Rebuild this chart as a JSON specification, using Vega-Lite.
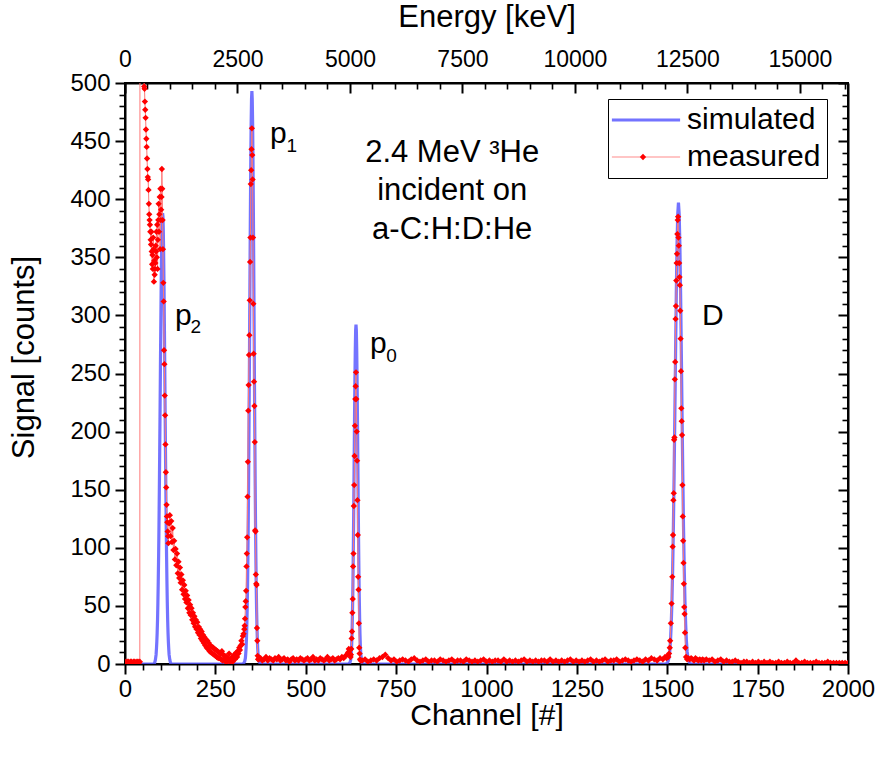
{
  "$schema": "https://vega.github.io/schema/vega-lite/v6.json",
  "width": 723,
  "height": 581,
  "autosize": {"type": "none"},
  "padding": {"left": 125, "top": 83, "right": 30, "bottom": 93},
  "background": "white",
  "datasets": {
    "sim": [
      {"ch": 0, "v": 0}, {"ch": 79, "v": 0}, {"ch": 82, "v": 1}, {"ch": 84, "v": 3.5}, {"ch": 86, "v": 8}, {"ch": 87, "v": 13}, {"ch": 88, "v": 19}, {"ch": 89, "v": 27}, {"ch": 90, "v": 38}, {"ch": 91, "v": 53}, {"ch": 92, "v": 71}, {"ch": 93, "v": 93}, {"ch": 94, "v": 119}, {"ch": 95, "v": 150}, {"ch": 96, "v": 183}, {"ch": 97, "v": 218}, {"ch": 98, "v": 255}, {"ch": 99, "v": 290}, {"ch": 100, "v": 323}, {"ch": 101, "v": 350}, {"ch": 102, "v": 372}, {"ch": 103, "v": 385}, {"ch": 104, "v": 388}, {"ch": 105, "v": 385}, {"ch": 106, "v": 372}, {"ch": 107, "v": 350}, {"ch": 108, "v": 323}, {"ch": 109, "v": 290}, {"ch": 110, "v": 255}, {"ch": 111, "v": 218}, {"ch": 112, "v": 183}, {"ch": 113, "v": 150}, {"ch": 114, "v": 119}, {"ch": 115, "v": 93}, {"ch": 116, "v": 71}, {"ch": 117, "v": 53}, {"ch": 118, "v": 38}, {"ch": 119, "v": 27}, {"ch": 120, "v": 19}, {"ch": 121, "v": 13}, {"ch": 122, "v": 8}, {"ch": 124, "v": 3.5}, {"ch": 126, "v": 1}, {"ch": 129, "v": 0},
      {"ch": 326, "v": 0}, {"ch": 329, "v": 1}, {"ch": 331, "v": 2}, {"ch": 333, "v": 5}, {"ch": 334, "v": 9}, {"ch": 335, "v": 14}, {"ch": 336, "v": 22}, {"ch": 337, "v": 33}, {"ch": 338, "v": 47}, {"ch": 339, "v": 67}, {"ch": 340, "v": 92}, {"ch": 341, "v": 123}, {"ch": 342, "v": 160}, {"ch": 343, "v": 203}, {"ch": 344, "v": 249}, {"ch": 345, "v": 299}, {"ch": 346, "v": 349}, {"ch": 347, "v": 395}, {"ch": 348, "v": 435}, {"ch": 349, "v": 466}, {"ch": 350, "v": 486}, {"ch": 351, "v": 493}, {"ch": 352, "v": 486}, {"ch": 353, "v": 466}, {"ch": 354, "v": 435}, {"ch": 355, "v": 395}, {"ch": 356, "v": 349}, {"ch": 357, "v": 299}, {"ch": 358, "v": 249}, {"ch": 359, "v": 203}, {"ch": 360, "v": 160}, {"ch": 361, "v": 123}, {"ch": 362, "v": 92}, {"ch": 363, "v": 67}, {"ch": 364, "v": 47}, {"ch": 365, "v": 33}, {"ch": 366, "v": 22}, {"ch": 367, "v": 14}, {"ch": 368, "v": 9}, {"ch": 369, "v": 5}, {"ch": 371, "v": 2}, {"ch": 373, "v": 1}, {"ch": 377, "v": 0},
      {"ch": 618, "v": 0}, {"ch": 622, "v": 1}, {"ch": 624, "v": 3}, {"ch": 625, "v": 6}, {"ch": 626, "v": 10}, {"ch": 627, "v": 16}, {"ch": 628, "v": 26}, {"ch": 629, "v": 40}, {"ch": 630, "v": 58}, {"ch": 631, "v": 81}, {"ch": 632, "v": 110}, {"ch": 633, "v": 143}, {"ch": 634, "v": 178}, {"ch": 635, "v": 213}, {"ch": 636, "v": 245}, {"ch": 637, "v": 270}, {"ch": 638, "v": 287}, {"ch": 639, "v": 292}, {"ch": 640, "v": 287}, {"ch": 641, "v": 270}, {"ch": 642, "v": 245}, {"ch": 643, "v": 213}, {"ch": 644, "v": 178}, {"ch": 645, "v": 143}, {"ch": 646, "v": 110}, {"ch": 647, "v": 81}, {"ch": 648, "v": 58}, {"ch": 649, "v": 40}, {"ch": 650, "v": 26}, {"ch": 651, "v": 16}, {"ch": 652, "v": 10}, {"ch": 653, "v": 6}, {"ch": 654, "v": 3}, {"ch": 656, "v": 1}, {"ch": 660, "v": 0},
      {"ch": 1497, "v": 0}, {"ch": 1501, "v": 1.5}, {"ch": 1503, "v": 3}, {"ch": 1505, "v": 6}, {"ch": 1507, "v": 11}, {"ch": 1509, "v": 20}, {"ch": 1511, "v": 34}, {"ch": 1513, "v": 54}, {"ch": 1515, "v": 82}, {"ch": 1517, "v": 118}, {"ch": 1519, "v": 163}, {"ch": 1521, "v": 214}, {"ch": 1523, "v": 267}, {"ch": 1525, "v": 318}, {"ch": 1527, "v": 360}, {"ch": 1529, "v": 387}, {"ch": 1531, "v": 397}, {"ch": 1533, "v": 387}, {"ch": 1535, "v": 360}, {"ch": 1537, "v": 318}, {"ch": 1539, "v": 267}, {"ch": 1541, "v": 214}, {"ch": 1543, "v": 163}, {"ch": 1545, "v": 118}, {"ch": 1547, "v": 82}, {"ch": 1549, "v": 54}, {"ch": 1551, "v": 34}, {"ch": 1553, "v": 20}, {"ch": 1555, "v": 11}, {"ch": 1557, "v": 6}, {"ch": 1559, "v": 3}, {"ch": 1561, "v": 1.5}, {"ch": 1565, "v": 0}, {"ch": 2000, "v": 0}
    ],
    "meas": [
      {"ch": 0, "v": 2}, {"ch": 3, "v": 1}, {"ch": 6, "v": 2}, {"ch": 9, "v": 2}, {"ch": 12, "v": 1}, {"ch": 15, "v": 2}, {"ch": 18, "v": 2}, {"ch": 21, "v": 1}, {"ch": 24, "v": 2}, {"ch": 27, "v": 2}, {"ch": 30, "v": 1}, {"ch": 33, "v": 2}, {"ch": 36, "v": 2}, {"ch": 39, "v": 1}, {"ch": 41, "v": 2}, {"ch": 42, "v": 1500},
      {"ch": 53, "v": 497}, {"ch": 54, "v": 495}, {"ch": 55, "v": 484}, {"ch": 56, "v": 477}, {"ch": 57, "v": 470}, {"ch": 58, "v": 460}, {"ch": 59, "v": 452}, {"ch": 60, "v": 445}, {"ch": 61, "v": 435}, {"ch": 62, "v": 426}, {"ch": 63, "v": 419}, {"ch": 64, "v": 417}, {"ch": 65, "v": 408}, {"ch": 66, "v": 396}, {"ch": 67, "v": 387}, {"ch": 68, "v": 382}, {"ch": 69, "v": 378}, {"ch": 70, "v": 372}, {"ch": 71, "v": 365}, {"ch": 72, "v": 361}, {"ch": 73, "v": 372}, {"ch": 74, "v": 355}, {"ch": 75, "v": 344}, {"ch": 76, "v": 352}, {"ch": 77, "v": 340}, {"ch": 78, "v": 367}, {"ch": 79, "v": 357}, {"ch": 80, "v": 329}, {"ch": 81, "v": 347}, {"ch": 82, "v": 335}, {"ch": 83, "v": 340}, {"ch": 84, "v": 345}, {"ch": 85, "v": 360}, {"ch": 86, "v": 355}, {"ch": 87, "v": 372}, {"ch": 88, "v": 350}, {"ch": 89, "v": 378}, {"ch": 90, "v": 340}, {"ch": 91, "v": 365}, {"ch": 92, "v": 382}, {"ch": 93, "v": 396}, {"ch": 94, "v": 372}, {"ch": 95, "v": 387}, {"ch": 96, "v": 402}, {"ch": 97, "v": 357}, {"ch": 98, "v": 409}, {"ch": 99, "v": 382}, {"ch": 100, "v": 391}, {"ch": 101, "v": 402}, {"ch": 102, "v": 426}, {"ch": 103, "v": 409}, {"ch": 104, "v": 382}, {"ch": 105, "v": 357}, {"ch": 106, "v": 328}, {"ch": 107, "v": 312}, {"ch": 108, "v": 270}, {"ch": 109, "v": 258}, {"ch": 110, "v": 231}, {"ch": 111, "v": 214}, {"ch": 112, "v": 189}, {"ch": 113, "v": 165}, {"ch": 114, "v": 152}, {"ch": 115, "v": 137}, {"ch": 116, "v": 127}, {"ch": 117, "v": 122}, {"ch": 118, "v": 114}, {"ch": 119, "v": 110},
      {"ch": 120, "v": 104}, {"ch": 122, "v": 121}, {"ch": 124, "v": 128}, {"ch": 126, "v": 110}, {"ch": 128, "v": 123}, {"ch": 130, "v": 105}, {"ch": 132, "v": 117}, {"ch": 134, "v": 98}, {"ch": 136, "v": 106}, {"ch": 138, "v": 90}, {"ch": 140, "v": 99}, {"ch": 142, "v": 85}, {"ch": 144, "v": 95}, {"ch": 146, "v": 78}, {"ch": 148, "v": 88}, {"ch": 150, "v": 74}, {"ch": 152, "v": 83}, {"ch": 154, "v": 70}, {"ch": 156, "v": 77}, {"ch": 158, "v": 64}, {"ch": 160, "v": 72}, {"ch": 162, "v": 60}, {"ch": 164, "v": 68}, {"ch": 166, "v": 56}, {"ch": 168, "v": 63}, {"ch": 170, "v": 53}, {"ch": 172, "v": 59}, {"ch": 174, "v": 48}, {"ch": 176, "v": 55}, {"ch": 178, "v": 44}, {"ch": 180, "v": 51}, {"ch": 182, "v": 42}, {"ch": 184, "v": 48}, {"ch": 186, "v": 38}, {"ch": 188, "v": 44}, {"ch": 190, "v": 35}, {"ch": 192, "v": 41}, {"ch": 194, "v": 32}, {"ch": 196, "v": 38}, {"ch": 198, "v": 30}, {"ch": 200, "v": 36}, {"ch": 202, "v": 27}, {"ch": 204, "v": 32}, {"ch": 206, "v": 25}, {"ch": 208, "v": 30}, {"ch": 210, "v": 22}, {"ch": 212, "v": 28}, {"ch": 214, "v": 20}, {"ch": 216, "v": 25}, {"ch": 218, "v": 18}, {"ch": 220, "v": 23}, {"ch": 222, "v": 16}, {"ch": 224, "v": 21}, {"ch": 226, "v": 14}, {"ch": 228, "v": 20}, {"ch": 230, "v": 13}, {"ch": 232, "v": 18}, {"ch": 234, "v": 11}, {"ch": 236, "v": 16}, {"ch": 238, "v": 10}, {"ch": 240, "v": 15}, {"ch": 242, "v": 9}, {"ch": 244, "v": 14}, {"ch": 246, "v": 8}, {"ch": 248, "v": 13}, {"ch": 250, "v": 7}, {"ch": 252, "v": 12}, {"ch": 254, "v": 6}, {"ch": 256, "v": 11}, {"ch": 258, "v": 5}, {"ch": 260, "v": 10}, {"ch": 262, "v": 5}, {"ch": 264, "v": 9}, {"ch": 266, "v": 4}, {"ch": 268, "v": 11}, {"ch": 270, "v": 3}, {"ch": 272, "v": 8}, {"ch": 274, "v": 4}, {"ch": 276, "v": 7}, {"ch": 278, "v": 2}, {"ch": 280, "v": 6}, {"ch": 282, "v": 2}, {"ch": 284, "v": 5}, {"ch": 286, "v": 3}, {"ch": 288, "v": 9}, {"ch": 290, "v": 2}, {"ch": 292, "v": 4}, {"ch": 294, "v": 3}, {"ch": 296, "v": 6}, {"ch": 298, "v": 2}, {"ch": 300, "v": 5}, {"ch": 302, "v": 8}, {"ch": 304, "v": 4}, {"ch": 306, "v": 7}, {"ch": 308, "v": 10}, {"ch": 310, "v": 6}, {"ch": 312, "v": 11}, {"ch": 314, "v": 9}, {"ch": 316, "v": 14}, {"ch": 318, "v": 12}, {"ch": 320, "v": 16}, {"ch": 322, "v": 20}, {"ch": 324, "v": 17}, {"ch": 326, "v": 24}, {"ch": 328, "v": 26},
      {"ch": 330, "v": 30}, {"ch": 331, "v": 33}, {"ch": 332, "v": 39}, {"ch": 333, "v": 49}, {"ch": 334, "v": 54}, {"ch": 335, "v": 63}, {"ch": 336, "v": 84}, {"ch": 337, "v": 95}, {"ch": 338, "v": 109}, {"ch": 339, "v": 144}, {"ch": 340, "v": 174}, {"ch": 341, "v": 218}, {"ch": 342, "v": 240}, {"ch": 343, "v": 266}, {"ch": 344, "v": 283}, {"ch": 345, "v": 313}, {"ch": 346, "v": 346}, {"ch": 347, "v": 367}, {"ch": 348, "v": 413}, {"ch": 349, "v": 425}, {"ch": 350, "v": 443}, {"ch": 351, "v": 461}, {"ch": 352, "v": 438}, {"ch": 353, "v": 417}, {"ch": 354, "v": 367}, {"ch": 355, "v": 310}, {"ch": 356, "v": 267}, {"ch": 357, "v": 243}, {"ch": 358, "v": 222}, {"ch": 359, "v": 191}, {"ch": 360, "v": 115}, {"ch": 361, "v": 114}, {"ch": 362, "v": 77}, {"ch": 363, "v": 69}, {"ch": 364, "v": 68}, {"ch": 365, "v": 31}, {"ch": 366, "v": 20}, {"ch": 367, "v": 7}, {"ch": 368, "v": 4},
      {"ch": 370, "v": 4}, {"ch": 375, "v": 5}, {"ch": 380, "v": 3}, {"ch": 385, "v": 4}, {"ch": 390, "v": 6}, {"ch": 395, "v": 3}, {"ch": 400, "v": 5}, {"ch": 405, "v": 4}, {"ch": 410, "v": 3}, {"ch": 415, "v": 5}, {"ch": 420, "v": 4}, {"ch": 425, "v": 6}, {"ch": 430, "v": 3}, {"ch": 435, "v": 4}, {"ch": 440, "v": 5}, {"ch": 445, "v": 3}, {"ch": 450, "v": 4}, {"ch": 455, "v": 2}, {"ch": 460, "v": 4}, {"ch": 465, "v": 5}, {"ch": 470, "v": 3}, {"ch": 475, "v": 4}, {"ch": 480, "v": 3}, {"ch": 485, "v": 5}, {"ch": 490, "v": 4}, {"ch": 495, "v": 3}, {"ch": 500, "v": 4}, {"ch": 505, "v": 5}, {"ch": 510, "v": 3}, {"ch": 515, "v": 4}, {"ch": 520, "v": 6}, {"ch": 525, "v": 3}, {"ch": 530, "v": 4}, {"ch": 535, "v": 3}, {"ch": 540, "v": 5}, {"ch": 545, "v": 4}, {"ch": 550, "v": 3}, {"ch": 555, "v": 4}, {"ch": 560, "v": 6}, {"ch": 565, "v": 3}, {"ch": 570, "v": 4}, {"ch": 575, "v": 5}, {"ch": 580, "v": 3}, {"ch": 585, "v": 4}, {"ch": 590, "v": 5}, {"ch": 595, "v": 4}, {"ch": 600, "v": 6}, {"ch": 605, "v": 5}, {"ch": 610, "v": 7}, {"ch": 614, "v": 8}, {"ch": 617, "v": 10}, {"ch": 619, "v": 13}, {"ch": 621, "v": 9}, {"ch": 622, "v": 12}, {"ch": 624, "v": 6},
      {"ch": 625, "v": 8}, {"ch": 626, "v": 13}, {"ch": 627, "v": 22}, {"ch": 628, "v": 28}, {"ch": 629, "v": 44}, {"ch": 630, "v": 56}, {"ch": 631, "v": 84}, {"ch": 632, "v": 95}, {"ch": 633, "v": 136}, {"ch": 634, "v": 154}, {"ch": 635, "v": 179}, {"ch": 636, "v": 205}, {"ch": 637, "v": 228}, {"ch": 638, "v": 239}, {"ch": 639, "v": 251}, {"ch": 640, "v": 228}, {"ch": 641, "v": 200}, {"ch": 642, "v": 175}, {"ch": 643, "v": 141}, {"ch": 644, "v": 111}, {"ch": 645, "v": 75}, {"ch": 646, "v": 64}, {"ch": 647, "v": 35}, {"ch": 648, "v": 14}, {"ch": 649, "v": 9}, {"ch": 650, "v": 4}, {"ch": 652, "v": 3},
      {"ch": 656, "v": 3}, {"ch": 664, "v": 4}, {"ch": 672, "v": 2}, {"ch": 680, "v": 3}, {"ch": 688, "v": 4}, {"ch": 696, "v": 3}, {"ch": 704, "v": 5}, {"ch": 712, "v": 6}, {"ch": 720, "v": 8}, {"ch": 728, "v": 5}, {"ch": 736, "v": 3}, {"ch": 744, "v": 4}, {"ch": 752, "v": 2}, {"ch": 760, "v": 3}, {"ch": 768, "v": 4}, {"ch": 776, "v": 3}, {"ch": 784, "v": 2}, {"ch": 792, "v": 4}, {"ch": 800, "v": 5}, {"ch": 808, "v": 3}, {"ch": 816, "v": 2}, {"ch": 824, "v": 3}, {"ch": 832, "v": 4}, {"ch": 840, "v": 2}, {"ch": 848, "v": 3}, {"ch": 856, "v": 3}, {"ch": 864, "v": 2}, {"ch": 872, "v": 4}, {"ch": 880, "v": 3}, {"ch": 888, "v": 2}, {"ch": 896, "v": 3}, {"ch": 904, "v": 4}, {"ch": 912, "v": 2}, {"ch": 920, "v": 3}, {"ch": 928, "v": 3}, {"ch": 936, "v": 2}, {"ch": 944, "v": 4}, {"ch": 952, "v": 3}, {"ch": 960, "v": 2}, {"ch": 968, "v": 3}, {"ch": 976, "v": 2}, {"ch": 984, "v": 3}, {"ch": 992, "v": 4}, {"ch": 1000, "v": 2}, {"ch": 1008, "v": 3}, {"ch": 1016, "v": 2}, {"ch": 1024, "v": 3}, {"ch": 1032, "v": 3}, {"ch": 1040, "v": 2}, {"ch": 1048, "v": 4}, {"ch": 1056, "v": 2}, {"ch": 1064, "v": 3}, {"ch": 1072, "v": 2}, {"ch": 1080, "v": 3}, {"ch": 1088, "v": 2}, {"ch": 1096, "v": 3}, {"ch": 1104, "v": 4}, {"ch": 1112, "v": 2}, {"ch": 1120, "v": 3}, {"ch": 1128, "v": 2}, {"ch": 1136, "v": 3}, {"ch": 1144, "v": 2}, {"ch": 1152, "v": 3}, {"ch": 1160, "v": 3}, {"ch": 1168, "v": 2}, {"ch": 1176, "v": 4}, {"ch": 1184, "v": 2}, {"ch": 1192, "v": 3}, {"ch": 1200, "v": 2}, {"ch": 1208, "v": 3}, {"ch": 1216, "v": 2}, {"ch": 1224, "v": 3}, {"ch": 1232, "v": 4}, {"ch": 1240, "v": 2}, {"ch": 1248, "v": 3}, {"ch": 1256, "v": 2}, {"ch": 1264, "v": 3}, {"ch": 1272, "v": 2}, {"ch": 1280, "v": 3}, {"ch": 1288, "v": 4}, {"ch": 1296, "v": 2}, {"ch": 1304, "v": 3}, {"ch": 1312, "v": 2}, {"ch": 1320, "v": 3}, {"ch": 1328, "v": 4}, {"ch": 1336, "v": 2}, {"ch": 1344, "v": 3}, {"ch": 1352, "v": 3}, {"ch": 1360, "v": 4}, {"ch": 1368, "v": 2}, {"ch": 1376, "v": 3}, {"ch": 1384, "v": 4}, {"ch": 1392, "v": 3}, {"ch": 1400, "v": 2}, {"ch": 1408, "v": 3}, {"ch": 1416, "v": 4}, {"ch": 1424, "v": 3}, {"ch": 1432, "v": 2}, {"ch": 1440, "v": 4}, {"ch": 1448, "v": 3}, {"ch": 1456, "v": 5}, {"ch": 1464, "v": 4}, {"ch": 1472, "v": 3}, {"ch": 1480, "v": 5}, {"ch": 1488, "v": 4}, {"ch": 1494, "v": 6}, {"ch": 1498, "v": 5}, {"ch": 1501, "v": 7},
      {"ch": 1503, "v": 6}, {"ch": 1505, "v": 9}, {"ch": 1507, "v": 14}, {"ch": 1508, "v": 20}, {"ch": 1510, "v": 35}, {"ch": 1512, "v": 52}, {"ch": 1514, "v": 75}, {"ch": 1515, "v": 101}, {"ch": 1516, "v": 111}, {"ch": 1517, "v": 141}, {"ch": 1518, "v": 147}, {"ch": 1519, "v": 193}, {"ch": 1520, "v": 195}, {"ch": 1521, "v": 245}, {"ch": 1522, "v": 260}, {"ch": 1523, "v": 297}, {"ch": 1524, "v": 308}, {"ch": 1525, "v": 330}, {"ch": 1526, "v": 345}, {"ch": 1527, "v": 353}, {"ch": 1528, "v": 370}, {"ch": 1529, "v": 382}, {"ch": 1530, "v": 385}, {"ch": 1531, "v": 367}, {"ch": 1532, "v": 360}, {"ch": 1533, "v": 345}, {"ch": 1534, "v": 333}, {"ch": 1535, "v": 326}, {"ch": 1536, "v": 304}, {"ch": 1537, "v": 280}, {"ch": 1538, "v": 252}, {"ch": 1539, "v": 220}, {"ch": 1540, "v": 209}, {"ch": 1541, "v": 197}, {"ch": 1542, "v": 154}, {"ch": 1543, "v": 127}, {"ch": 1544, "v": 106}, {"ch": 1545, "v": 87}, {"ch": 1546, "v": 69}, {"ch": 1547, "v": 49}, {"ch": 1548, "v": 43}, {"ch": 1549, "v": 27}, {"ch": 1550, "v": 14}, {"ch": 1552, "v": 6}, {"ch": 1555, "v": 4},
      {"ch": 1558, "v": 5}, {"ch": 1562, "v": 4}, {"ch": 1566, "v": 5}, {"ch": 1570, "v": 4}, {"ch": 1574, "v": 3}, {"ch": 1578, "v": 5}, {"ch": 1582, "v": 4}, {"ch": 1586, "v": 3}, {"ch": 1590, "v": 4}, {"ch": 1594, "v": 3}, {"ch": 1598, "v": 4}, {"ch": 1602, "v": 3}, {"ch": 1608, "v": 4}, {"ch": 1616, "v": 3}, {"ch": 1624, "v": 4}, {"ch": 1632, "v": 2}, {"ch": 1640, "v": 3}, {"ch": 1648, "v": 4}, {"ch": 1656, "v": 2}, {"ch": 1664, "v": 3}, {"ch": 1672, "v": 2}, {"ch": 1680, "v": 2}, {"ch": 1688, "v": 3}, {"ch": 1696, "v": 2}, {"ch": 1704, "v": 1}, {"ch": 1712, "v": 2}, {"ch": 1720, "v": 2}, {"ch": 1728, "v": 1}, {"ch": 1736, "v": 2}, {"ch": 1744, "v": 1}, {"ch": 1752, "v": 2}, {"ch": 1760, "v": 1}, {"ch": 1768, "v": 2}, {"ch": 1776, "v": 1}, {"ch": 1784, "v": 2}, {"ch": 1792, "v": 1}, {"ch": 1800, "v": 1}, {"ch": 1808, "v": 2}, {"ch": 1816, "v": 1}, {"ch": 1824, "v": 1}, {"ch": 1832, "v": 2}, {"ch": 1840, "v": 1}, {"ch": 1848, "v": 1}, {"ch": 1856, "v": 3}, {"ch": 1864, "v": 1}, {"ch": 1872, "v": 1}, {"ch": 1880, "v": 2}, {"ch": 1888, "v": 1}, {"ch": 1896, "v": 1}, {"ch": 1904, "v": 1}, {"ch": 1912, "v": 2}, {"ch": 1920, "v": 1}, {"ch": 1928, "v": 1}, {"ch": 1936, "v": 1}, {"ch": 1944, "v": 2}, {"ch": 1952, "v": 1}, {"ch": 1960, "v": 1}, {"ch": 1968, "v": 1}, {"ch": 1976, "v": 1}, {"ch": 1984, "v": 1}, {"ch": 1992, "v": 1}, {"ch": 2000, "v": 1}
    ],
    "ann": [
      {"t": "p", "ch": 401, "v": 448},
      {"t": "p", "ch": 138, "v": 292},
      {"t": "p", "ch": 678, "v": 268},
      {"t": "D", "ch": 1596, "v": 292}
    ],
    "sub": [
      {"t": "1", "ch": 447, "v": 441},
      {"t": "2", "ch": 181, "v": 285},
      {"t": "0", "ch": 723, "v": 260}
    ],
    "desc": [
      {"t": "2.4 MeV ³He", "ch": 905, "v": 432},
      {"t": "incident on", "ch": 905, "v": 399},
      {"t": "a-C:H:D:He", "ch": 905, "v": 366}
    ],
    "anchor": [{"a": 0, "b": 0}]
  },
  "layer": [
    {
      "encoding": {
        "x": {
          "field": "ch", "type": "quantitative",
          "scale": {"domain": [0, 2000], "nice": false, "zero": false},
          "axis": {
            "orient": "bottom",
            "title": "Channel [#]",
            "values": [0, 250, 500, 750, 1000, 1250, 1500, 1750, 2000],
            "format": "d",
            "labelOverlap": false,
            "labelFlush": false,
            "ticks": true,
            "tickSize": 10,
            "tickColor": "#000000",
            "tickWidth": 2,
            "tickOpacity": 1,
            "labelPadding": 3,
            "labelFontSize": 24,
            "titleFontSize": 30,
            "titleY": 60,
            "titleBaseline": "alphabetic"
          }
        },
        "y": {
          "field": "v", "type": "quantitative",
          "scale": {"domain": [0, 500], "nice": false, "zero": false},
          "axis": {
            "orient": "left",
            "title": "Signal [counts]",
            "values": [0, 50, 100, 150, 200, 250, 300, 350, 400, 450, 500],
            "format": "d",
            "labelOverlap": false,
            "labelFlush": false,
            "ticks": true,
            "tickSize": 10,
            "tickColor": "#000000",
            "tickWidth": 2,
            "tickOpacity": 1,
            "labelPadding": 5,
            "labelFontSize": 24,
            "titleFontSize": 31,
            "titleX": -92,
            "titleY": 274,
            "titleBaseline": "alphabetic"
          }
        }
      },
      "layer": [
        {
          "data": {"name": "sim"},
          "mark": {"type": "line", "opacity": 0.85, "clip": true},
          "encoding": {
            "color": {
              "datum": "simulated",
              "scale": {"domain": ["simulated", "measured"], "range": ["#5b5bff", "#ff7878"]},
              "legend": {
                "orient": "none",
                "legendX": 483,
                "legendY": 16,
                "title": null,
                "strokeColor": "black",
                "padding": 6,
                "labelFont": "Liberation Sans",
                "labelFontSize": 30,
                "labelColor": "black",
                "labelLimit": 400,
                "symbolSize": 484,
                "symbolType": "M-3.1,0H3.1",
                "symbolOffset": 17,
                "labelOffset": 26,
                "rowPadding": 7
              }
            },
            "strokeWidth": {
              "datum": "simulated",
              "type": "ordinal",
              "scale": {"domain": ["simulated", "measured"], "range": [3.2, 1]}
            }
          }
        },
        {
          "data": {"name": "meas"},
          "mark": {"type": "line", "clip": true},
          "encoding": {
            "color": {"datum": "measured"},
            "strokeWidth": {"datum": "measured", "type": "ordinal"}
          }
        },
        {
          "data": {"name": "meas"},
          "mark": {"type": "point", "filled": true, "size": 40, "color": "#ff0000", "opacity": 1, "clip": true},
          "encoding": {
            "shape": {
              "datum": "measured",
              "scale": {"domain": ["measured"], "range": ["diamond"]},
              "legend": {
                "orient": "none",
                "legendX": 483,
                "legendY": 53,
                "title": null,
                "padding": 6,
                "labelFontSize": 30,
                "labelExpr": "''",
                "symbolSize": 40,
                "symbolOffset": 14,
                "symbolStrokeWidth": 0,
                "symbolFillColor": "#ff0000",
                "zindex": 2
              }
            }
          }
        },
        {
          "data": {"name": "ann"},
          "mark": {"type": "text", "align": "left", "baseline": "alphabetic", "fontSize": 30, "font": "Liberation Sans", "color": "black"},
          "encoding": {"text": {"field": "t"}}
        },
        {
          "data": {"name": "sub"},
          "mark": {"type": "text", "align": "left", "baseline": "alphabetic", "fontSize": 19, "font": "Liberation Sans", "color": "black"},
          "encoding": {"text": {"field": "t"}}
        },
        {
          "data": {"name": "desc"},
          "mark": {"type": "text", "align": "center", "baseline": "alphabetic", "fontSize": 31, "font": "Liberation Sans", "color": "black"},
          "encoding": {"text": {"field": "t"}}
        }
      ]
    },
    {
      "data": {"name": "anchor"},
      "mark": {"type": "point", "opacity": 0},
      "encoding": {
        "x": {
          "field": "a", "type": "quantitative",
          "scale": {"domain": [0, 2000], "nice": false, "zero": false},
          "axis": {"orient": "bottom", "title": null, "labels": false, "domain": false, "ticks": true, "tickSize": 6, "tickColor": "#000000", "tickWidth": 1.6, "tickOpacity": 1, "values": [50,100,150,200,300,350,400,450,550,600,650,700,800,850,900,950,1050,1100,1150,1200,1300,1350,1400,1450,1550,1600,1650,1700,1800,1850,1900,1950]}
        },
        "y": {
          "field": "b", "type": "quantitative",
          "scale": {"domain": [0, 500], "nice": false, "zero": false},
          "axis": {"orient": "left", "title": null, "labels": false, "domain": false, "ticks": true, "tickSize": 6, "tickColor": "#000000", "tickWidth": 1.6, "tickOpacity": 1, "values": [10,20,30,40,60,70,80,90,110,120,130,140,160,170,180,190,210,220,230,240,260,270,280,290,310,320,330,340,360,370,380,390,410,420,430,440,460,470,480,490]}
        }
      }
    },
    {
      "data": {"name": "anchor"},
      "mark": {"type": "point", "opacity": 0},
      "encoding": {
        "x": {
          "field": "a", "type": "quantitative",
          "scale": {"domain": [0, 16070], "nice": false, "zero": false},
          "axis": {
            "orient": "top",
            "title": "Energy [keV]",
            "values": [0, 2500, 5000, 7500, 10000, 12500, 15000],
            "format": "d",
            "labelOverlap": false,
            "labelFlush": false,
            "ticks": true,
            "tickSize": -10,
            "tickColor": "#000000",
            "tickWidth": 2,
            "tickOpacity": 1,
            "labelPadding": 22,
            "labelFontSize": 23,
            "titleFontSize": 31,
            "titleY": -57,
            "titleBaseline": "alphabetic"
          }
        },
        "y": {
          "field": "b", "type": "quantitative",
          "scale": {"domain": [0, 500], "nice": false, "zero": false},
          "axis": {"orient": "right", "title": null, "labels": false, "ticks": true, "tickSize": -10, "tickColor": "#000000", "tickWidth": 2, "tickOpacity": 1, "values": [0, 50, 100, 150, 200, 250, 300, 350, 400, 450, 500]}
        }
      }
    },
    {
      "data": {"name": "anchor"},
      "mark": {"type": "point", "opacity": 0},
      "encoding": {
        "x": {
          "field": "a", "type": "quantitative",
          "scale": {"domain": [0, 16070], "nice": false, "zero": false},
          "axis": {"orient": "top", "title": null, "labels": false, "domain": false, "ticks": true, "tickSize": -6, "tickColor": "#000000", "tickWidth": 1.6, "tickOpacity": 1, "values": [500,1000,1500,2000,3000,3500,4000,4500,5500,6000,6500,7000,8000,8500,9000,9500,10500,11000,11500,12000,13000,13500,14000,14500,15500,16000]}
        },
        "y": {
          "field": "b", "type": "quantitative",
          "scale": {"domain": [0, 500], "nice": false, "zero": false},
          "axis": {"orient": "right", "title": null, "labels": false, "domain": false, "ticks": true, "tickSize": -6, "tickColor": "#000000", "tickWidth": 1.6, "tickOpacity": 1, "values": [10,20,30,40,60,70,80,90,110,120,130,140,160,170,180,190,210,220,230,240,260,270,280,290,310,320,330,340,360,370,380,390,410,420,430,440,460,470,480,490]}
        }
      }
    }
  ],
  "resolve": {"scale": {"x": "independent", "y": "independent"}},
  "config": {
    "view": {"stroke": "black", "strokeWidth": 2},
    "axis": {
      "labelFont": "Liberation Sans",
      "titleFont": "Liberation Sans",
      "labelColor": "black",
      "titleColor": "black",
      "titleFontWeight": "normal",
      "domainColor": "black",
      "domainWidth": 2,
      "grid": false,
      "zindex": 1
    }
  }
}
